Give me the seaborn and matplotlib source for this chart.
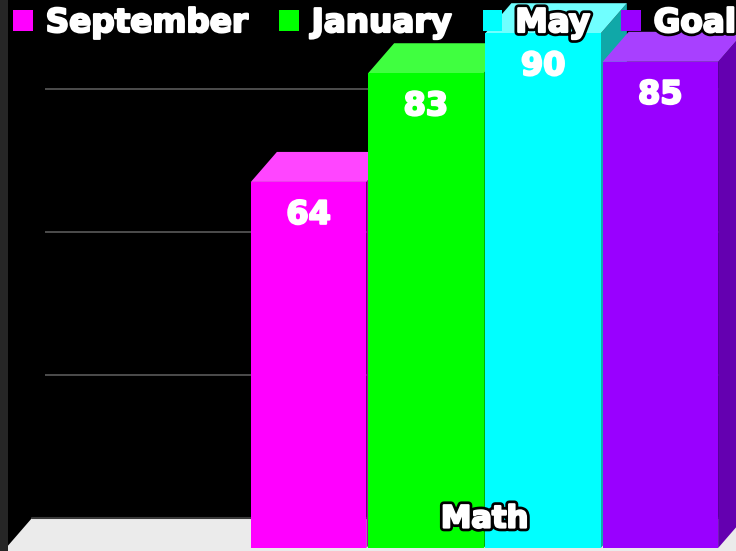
import numpy as np
import pandas as pd
import matplotlib
matplotlib.use("Agg")
import matplotlib.pyplot as plt
import seaborn as sns
from matplotlib.patches import Polygon, Patch, Rectangle
import matplotlib.patheffects as pe

# ---- data ----
subject = "Math"
periods = ["September", "January", "May", "Goal"]
scores = [64, 83, 90, 85]
gridline_values = [25, 50, 75]
front_colors = ["#ff00ff", "#00ff00", "#00ffff", "#9900ff"]
top_colors = ["#ff45ff", "#40ff40", "#70ffff", "#a840ff"]
side_colors = ["#b000b0", "#00b000", "#10a8a8", "#6400b0"]

sns.set_theme(style="white")
plt.rcParams["font.family"] = ["DejaVu Sans"]

W, H = 736, 551
fig = plt.figure(figsize=(W / 100, H / 100), dpi=100, facecolor="#262626")
ax = fig.add_axes([8 / W, 0, 1 - 8 / W, 1])
ax.set_facecolor("black")

df = pd.DataFrame({"period": periods, "score": scores})
sns.barplot(data=df, x="period", y="score", hue="period", palette=front_colors,
            saturation=1, width=0.985, legend=False, ax=ax, linewidth=0)
bars = [p for p in ax.patches if isinstance(p, Rectangle) and p.get_height() > 0]
bars = sorted(bars, key=lambda p: p.get_x())

px_x, px_y = 117.25, 5.72        # pixels per data unit
ax.set_xlim(-0.5 - 242 / px_x, 3.5 + 17 / px_x)
ax.set_ylim(-3 / px_y, 548 / px_y)
for s in ax.spines.values():
    s.set_visible(False)
ax.set_xticks([])
ax.set_yticks([])
ax.set_xlabel("")
ax.set_ylabel("")

ddx, ddy = 26 / px_x, 30 / px_y   # depth offset in data units

# floor
xl = -0.5 - (250 - 6) / px_x
xr = 5
floor = Polygon([(xl, -2), (xl, 0), (xl + ddx, ddy), (xr, ddy), (xr, -2)],
                closed=True, facecolor="#ebebeb", edgecolor="none", zorder=1)
ax.add_patch(floor)
ax.plot([xl + ddx, xr], [ddy, ddy], color="#3a3a3a", lw=1.5, zorder=1.5)

# back-wall gridlines
ax.hlines([v + ddy for v in gridline_values], xmin=-0.5 - (250 - 45) / px_x, xmax=xr,
          color="#5a5a5a", lw=1.2, zorder=1)

heavy_white = [pe.Stroke(linewidth=1.6, foreground="white"), pe.Normal()]
outlined = [pe.Stroke(linewidth=5.5, foreground="black"),
            pe.Stroke(linewidth=1.6, foreground="white"), pe.Normal()]

for i, p in enumerate(bars):
    x0, w, h = p.get_x(), p.get_width(), p.get_height()
    x1 = x0 + w
    z = 10 + 3 * i
    side = Polygon([(x1, 0), (x1, h), (x1 + ddx, h + ddy), (x1 + ddx, ddy)],
                   closed=True, facecolor=side_colors[i], edgecolor="none", zorder=z)
    top = Polygon([(x0, h), (x1, h), (x1 + ddx, h + ddy), (x0 + ddx, h + ddy)],
                  closed=True, facecolor=top_colors[i], edgecolor="none", zorder=z + 1)
    ax.add_patch(side)
    ax.add_patch(top)
    p.set_zorder(z + 2)
    ax.annotate(f"{scores[i]}", xy=(x0 + w / 2, h), xytext=(0, -24),
                textcoords="offset points", ha="center", va="center",
                color="white", fontsize=23, fontweight="bold", zorder=z + 2.5,
                path_effects=heavy_white)

ax.text(1.5, (548 - 519) / px_y, subject, ha="center", va="center", color="white",
        fontsize=22, fontweight="bold", zorder=60, path_effects=outlined)

handles = [Patch(facecolor=c, edgecolor="none") for c in front_colors]
leg = fig.legend(handles, periods, loc="upper left", bbox_to_anchor=(13 / W, 1 - 6 / H),
                 ncol=4, frameon=False, borderpad=0, borderaxespad=0,
                 handlelength=0.6, handleheight=0.62, handletextpad=0.4,
                 columnspacing=0.95, prop={"weight": "bold", "size": 23.5},
                 labelcolor="white")
for t in leg.get_texts():
    t.set_path_effects(outlined)

fig.savefig("out.png", dpi=100, facecolor=fig.get_facecolor())
